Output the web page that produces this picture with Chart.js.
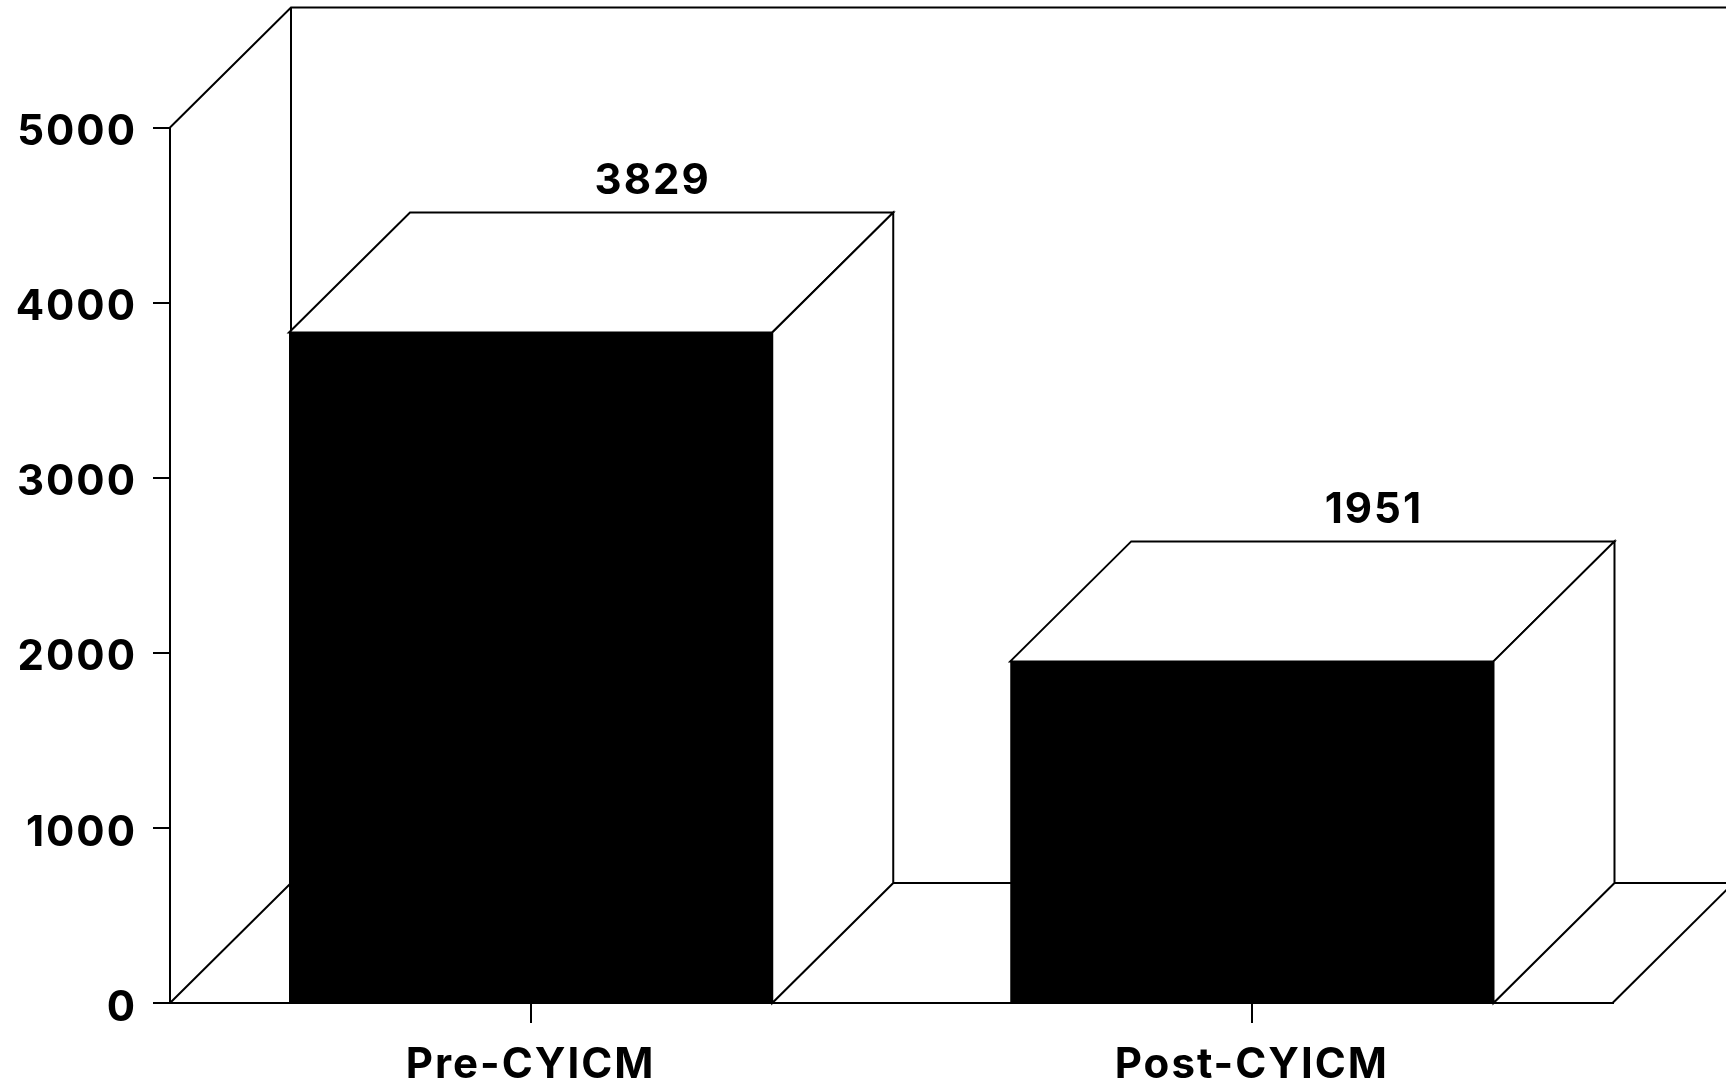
<!DOCTYPE html>
<html>
<head>
<meta charset="utf-8">
<title>Pre / Post CYICM</title>
<script src="https://cdn.jsdelivr.net/npm/chart.js@4"></script>
<style>
  html, body { margin: 0; background: #fff; overflow: hidden; }
  canvas { display: block; }
</style>
</head>
<body>
<canvas id="chart" width="1726" height="1089"></canvas>
<script>
const categories = ['Pre-CYICM', 'Post-CYICM'];
const values = [3829, 1951];
const axisMax = 5000;
const axisStep = 1000;

const ink = '#000000';
const fontFamily = 'Inter';
const depthX = 121;
const depthY = 120;

const line = (ctx, points, close) => {
  ctx.beginPath();
  points.forEach(([x, y], i) => (i ? ctx.lineTo(x, y) : ctx.moveTo(x, y)));
  if (close) ctx.closePath();
};

// Fake 3D box: back walls, floor, and the top and side faces of each bar
const box3d = {
  id: 'box3d',
  beforeDraw(chart) {
    chart.ctx.letterSpacing = '2px';
  },
  beforeDatasetsDraw(chart) {
    const { ctx, chartArea: area, width } = chart;
    const baseY = chart.scales.y.getPixelForValue(0);
    const topY = chart.scales.y.getPixelForValue(axisMax);
    const backX = area.left + depthX;
    const floorY = baseY - depthY;

    ctx.save();
    ctx.strokeStyle = ink;
    ctx.fillStyle = '#ffffff';
    ctx.lineWidth = 2;
    ctx.lineJoin = 'miter';

    // left wall, back wall and floor
    line(ctx, [[area.left, topY], [backX, topY - depthY], [width, topY - depthY]]);
    ctx.stroke();
    line(ctx, [[backX, topY - depthY], [backX, floorY]]);
    ctx.stroke();
    line(ctx, [[area.left, baseY], [backX, floorY], [width, floorY]]);
    ctx.stroke();
    line(ctx, [[area.right, baseY], [area.right + depthX, floorY]]);
    ctx.stroke();

    chart.getDatasetMeta(0).data.forEach((bar) => {
      const left = bar.x - bar.width / 2;
      const right = bar.x + bar.width / 2;
      line(ctx, [[left, bar.y], [left + depthX, bar.y - depthY], [right + depthX, bar.y - depthY], [right, bar.y]], true);
      ctx.fill();
      ctx.stroke();
      line(ctx, [[right, bar.y], [right + depthX, bar.y - depthY], [right + depthX, floorY], [right, baseY]], true);
      ctx.fill();
      ctx.stroke();
    });
    ctx.restore();
  },
  afterDatasetsDraw(chart) {
    const { ctx } = chart;
    ctx.save();
    ctx.fillStyle = ink;
    ctx.font = `700 42px ${fontFamily}`;
    ctx.textAlign = 'center';
    ctx.textBaseline = 'middle';
    chart.getDatasetMeta(0).data.forEach((bar, i) => {
      ctx.fillText(String(values[i]), bar.x + depthX + 1, bar.y - depthY - 31);
    });
    ctx.restore();
  }
};

new Chart(document.getElementById('chart'), {
  type: 'bar',
  data: {
    labels: categories,
    datasets: [{
      data: values,
      backgroundColor: ink,
      borderWidth: 0,
      categoryPercentage: 0.67,
      barPercentage: 1
    }]
  },
  options: {
    responsive: false,
    animation: false,
    layout: { padding: { top: 127.5, right: 113.5, left: 0, bottom: 0 } },
    plugins: { legend: { display: false }, tooltip: { enabled: false } },
    scales: {
      x: {
        afterFit: (scale) => { scale.height = 86; },
        border: { color: ink, width: 2 },
        grid: { offset: false, drawOnChartArea: false, color: ink, lineWidth: 2, tickLength: 20 },
        ticks: { color: ink, padding: 17, maxRotation: 0, font: { family: fontFamily, size: 42, weight: '700' } }
      },
      y: {
        min: 0,
        max: axisMax,
        afterFit: (scale) => { scale.width = 170; },
        border: { color: ink, width: 2 },
        grid: { drawOnChartArea: false, color: ink, lineWidth: 2, tickLength: 17 },
        ticks: {
          stepSize: axisStep,
          color: ink,
          padding: 16,
          labelOffset: 5,
          callback: (value) => String(value),
          font: { family: fontFamily, size: 42, weight: '700' }
        }
      }
    }
  },
  plugins: [box3d]
});
</script>
</body>
</html>
